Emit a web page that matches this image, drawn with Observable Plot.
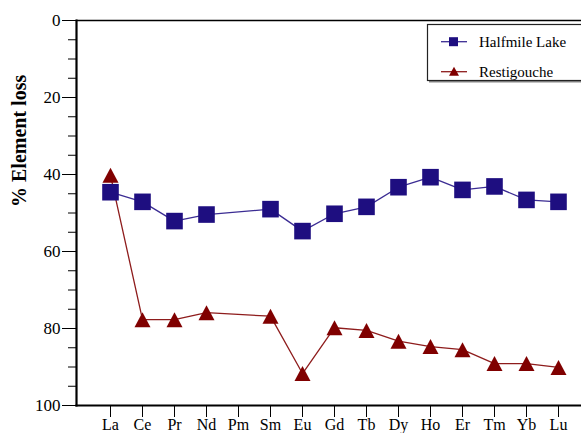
<!DOCTYPE html>
<html>
<head>
<meta charset="utf-8">
<script src="https://cdn.jsdelivr.net/npm/d3@7"></script>
<script src="https://cdn.jsdelivr.net/npm/@observablehq/plot@0.6"></script>
<style>
  html, body { margin: 0; padding: 0; background: white; }
</style>
</head>
<body>
<div id="chart"></div>
<script>
const elements = ["La","Ce","Pr","Nd","Pm","Sm","Eu","Gd","Tb","Dy","Ho","Er","Tm","Yb","Lu"];
const halfmileElements = ["La","Ce","Pr","Nd","Sm","Eu","Gd","Tb","Dy","Ho","Er","Tm","Yb","Lu"];
const halfmileLoss = [44.6, 47.1, 52.1, 50.4, 49.0, 54.7, 50.2, 48.4, 43.3, 40.7, 44.0, 43.1, 46.6, 47.1];
const restigoucheElements = ["La","Ce","Pr","Nd","Sm","Eu","Gd","Tb","Dy","Ho","Er","Tm","Yb","Lu"];
const restigoucheLoss = [40.2, 77.7, 77.7, 75.9, 76.8, 91.7, 79.8, 80.5, 83.3, 84.7, 85.5, 89.1, 89.1, 90.1];
const yMajorTicks = [0, 20, 40, 60, 80, 100];
const yMinorTicks = d3.range(0, 101, 5);
const seriesNames = ["Halfmile Lake", "Restigouche"];
const yLabel = "% Element loss";

const half = halfmileElements.map((el, i) => ({el, v: halfmileLoss[i]}));
const rest = restigoucheElements.map((el, i) => ({el, v: restigoucheLoss[i]}));

const squareSym = {draw(ctx) { const s = 8.3; ctx.moveTo(-s, -s); ctx.lineTo(s, -s); ctx.lineTo(s, s); ctx.lineTo(-s, s); ctx.closePath(); }};
const triSym = {draw(ctx) { const w = 8, h = 7.5; ctx.moveTo(0, -h); ctx.lineTo(w, h); ctx.lineTo(-w, h); ctx.closePath(); }};

const HALF_FILL = "#1e0e80", HALF_LINE = "#3b2c93";
const REST_FILL = "#800000", REST_LINE = "#8e1c1c";
const SERIF = "'Liberation Serif', 'Times New Roman', serif";

const svg = Plot.plot({
  width: 581,
  height: 433,
  marginLeft: 76,
  marginRight: 0,
  marginTop: 20,
  marginBottom: 28,
  style: {fontFamily: SERIF, fontSize: "17px", color: "black", background: "white"},
  x: {type: "point", domain: elements, range: [108.3, 559.7], padding: 0},
  y: {domain: [0, 100], reverse: true},
  marks: [
    Plot.frame({anchor: "top", strokeWidth: 1.3}),
    Plot.frame({anchor: "left", strokeWidth: 2.2}),
    Plot.frame({anchor: "bottom", strokeWidth: 2.2}),
    Plot.axisY({ticks: yMinorTicks, tickSize: 8, tickFormat: () => "", label: null, strokeWidth: 1}),
    Plot.axisY({ticks: yMajorTicks, tickSize: 14, tickPadding: 2, tickFormat: d => String(d), label: null, strokeWidth: 1}),
    Plot.axisX({tickSize: 12, tickPadding: 1, fontSize: 16, label: null, strokeWidth: 1}),
    Plot.line(rest, {x: "el", y: "v", stroke: REST_LINE, strokeWidth: 1.3}),
    Plot.dot(rest, {x: "el", y: "v", symbol: triSym, fill: REST_FILL, stroke: "none"}),
    Plot.line(half, {x: "el", y: "v", stroke: HALF_LINE, strokeWidth: 1.3}),
    Plot.dot(half, {x: "el", y: "v", symbol: squareSym, fill: HALF_FILL, stroke: "none"}),
    Plot.text([yLabel], {frameAnchor: "left", rotate: -90, dx: -57, dy: -6, fontWeight: "bold", fontSize: 20, text: d => d, fill: "black"})
  ]
});

// Legend inside the plot area
const s = d3.select(svg);
const lg = s.append("g").attr("text-anchor", "start");
lg.append("line").attr("x1", 429).attr("x2", 581).attr("y1", 81.5).attr("y2", 81.5).attr("stroke", "#888").attr("stroke-width", 2);
lg.append("rect").attr("x", 427.5).attr("y", 24.5).attr("width", 170).attr("height", 56)
  .attr("fill", "white").attr("stroke", "#222").attr("stroke-width", 1.2);
const rows = [
  {name: seriesNames[0], y: 41.7, line: HALF_LINE, fill: HALF_FILL, type: "square"},
  {name: seriesNames[1], y: 71.7, line: REST_LINE, fill: REST_FILL, type: "tri"}
];
for (const r of rows) {
  lg.append("line").attr("x1", 441).attr("x2", 467).attr("y1", r.y).attr("y2", r.y).attr("stroke", r.line).attr("stroke-width", 1.3);
  if (r.type === "square") {
    lg.append("rect").attr("x", 449).attr("y", r.y - 4.5).attr("width", 9).attr("height", 9).attr("fill", r.fill);
  } else {
    lg.append("path").attr("d", `M454,${r.y - 5}L459,${r.y + 4}L449,${r.y + 4}Z`).attr("fill", r.fill);
  }
  lg.append("text").attr("x", 479).attr("y", r.y + 5).attr("font-size", 15).attr("text-anchor", "start")
    .attr("font-family", SERIF).attr("fill", "black").text(r.name);
}

document.getElementById("chart").appendChild(svg);
</script>
</body>
</html>
